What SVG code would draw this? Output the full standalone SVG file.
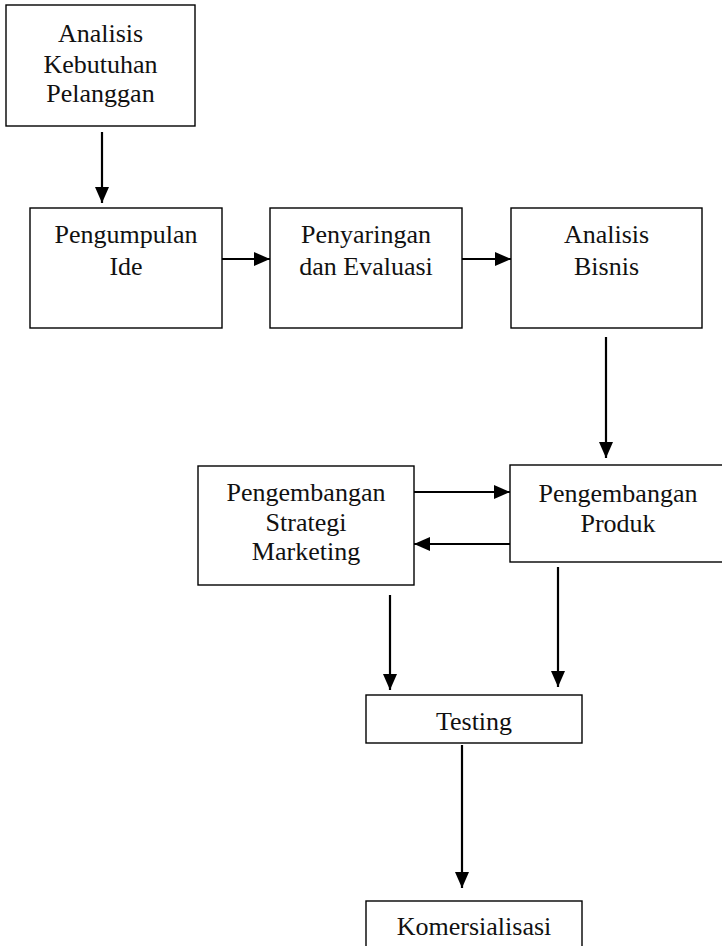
<svg xmlns="http://www.w3.org/2000/svg" width="722" height="946" viewBox="0 0 722 946">
  <style>
    .box { fill: #ffffff; stroke: #000000; stroke-width: 1.4; }
    .lbl { font-family: "Liberation Serif", "Times New Roman", serif; font-size: 26px; fill: #111111; text-anchor: middle; }
    .conn { fill: none; stroke: #000000; stroke-width: 2.2; marker-end: url(#ah); }
  </style>
  <defs>
    <marker id="ah" markerUnits="userSpaceOnUse" markerWidth="16" markerHeight="16" viewBox="0 0 16 16" refX="16" refY="8" orient="auto">
      <path d="M0,1 L16,8 L0,15 z" fill="#000000"/>
    </marker>
  </defs>
  <rect width="722" height="946" fill="#ffffff"/>

  <g id="analisis-kebutuhan">
    <rect class="box" x="6" y="5" width="189" height="121"/>
    <text class="lbl" x="100.5" y="42">Analisis</text>
    <text class="lbl" x="100.5" y="72.5">Kebutuhan</text>
    <text class="lbl" x="100.5" y="101.5">Pelanggan</text>
  </g>

  <g id="pengumpulan-ide">
    <rect class="box" x="30" y="208" width="192" height="120"/>
    <text class="lbl" x="126" y="243">Pengumpulan</text>
    <text class="lbl" x="126" y="275">Ide</text>
  </g>

  <g id="penyaringan">
    <rect class="box" x="270" y="208" width="192" height="120"/>
    <text class="lbl" x="366" y="243">Penyaringan</text>
    <text class="lbl" x="366" y="275">dan Evaluasi</text>
  </g>

  <g id="analisis-bisnis">
    <rect class="box" x="511" y="208" width="191" height="120"/>
    <text class="lbl" x="606.5" y="243">Analisis</text>
    <text class="lbl" x="606.5" y="275">Bisnis</text>
  </g>

  <g id="strategi-marketing">
    <rect class="box" x="198" y="466" width="216" height="119"/>
    <text class="lbl" x="306" y="501">Pengembangan</text>
    <text class="lbl" x="306" y="530.5">Strategi</text>
    <text class="lbl" x="306" y="560">Marketing</text>
  </g>

  <g id="pengembangan-produk">
    <rect class="box" x="510" y="465" width="216" height="97"/>
    <text class="lbl" x="618" y="502">Pengembangan</text>
    <text class="lbl" x="618" y="532">Produk</text>
  </g>

  <g id="testing">
    <rect class="box" x="366" y="695" width="216" height="48"/>
    <text class="lbl" x="474" y="730">Testing</text>
  </g>

  <g id="komersialisasi">
    <rect class="box" x="366" y="901" width="216" height="60"/>
    <text class="lbl" x="474" y="935">Komersialisasi</text>
  </g>

  <g id="connectors">
    <path class="conn" d="M102,132 V203"/>
    <path class="conn" d="M222,259 H270"/>
    <path class="conn" d="M462,259 H511"/>
    <path class="conn" d="M606,337 V458"/>
    <path class="conn" d="M414,492 H510"/>
    <path class="conn" d="M510,544 H414"/>
    <path class="conn" d="M390,595 V690"/>
    <path class="conn" d="M558,567 V687"/>
    <path class="conn" d="M462,745 V888"/>
  </g>
</svg>
